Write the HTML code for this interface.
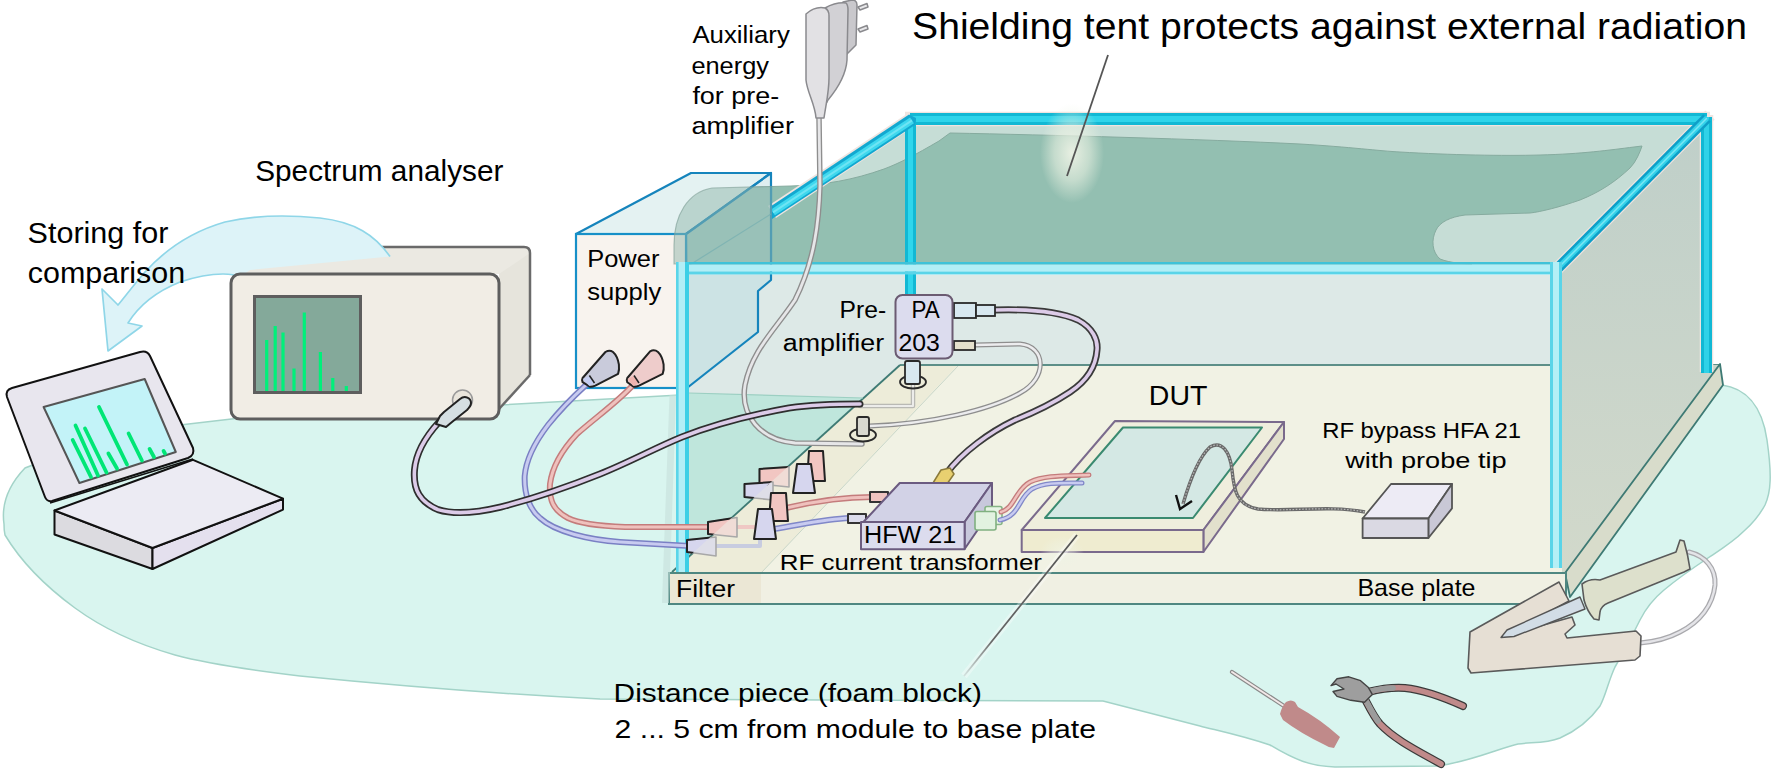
<!DOCTYPE html>
<html><head><meta charset="utf-8">
<style>
html,body{margin:0;padding:0;background:#fff;width:1772px;height:771px;overflow:hidden}
svg{display:block}
text{font-family:"Liberation Sans",sans-serif;fill:#000}
</style></head><body>
<svg width="1772" height="771" viewBox="0 0 1772 771">
<defs>
<linearGradient id="rface" x1="0" y1="0" x2="0" y2="1"><stop offset="0" stop-color="#bfcfc9"/><stop offset="1" stop-color="#d2d9cb"/></linearGradient>
<linearGradient id="psr" x1="0" y1="0" x2="1" y2="1"><stop offset="0" stop-color="#c8e0e2"/><stop offset="1" stop-color="#b8d8dc"/></linearGradient>
<radialGradient id="glow" cx="0.5" cy="0.5" r="0.5"><stop offset="0" stop-color="#f4f6ea" stop-opacity="0.95"/><stop offset="0.6" stop-color="#eef3e6" stop-opacity="0.6"/><stop offset="1" stop-color="#eef3e6" stop-opacity="0"/></radialGradient>
</defs>
<!--FLOOR-->
<path d="M4,524 C2,510 4,490 25,468 L120,432 L240,418 L500,405 L671,395.5 L700,394 L1000,394 L1722,385 C1745,388 1762,405 1767,440 C1772,475 1771,492 1765,505 C1758,518 1752,524 1744,531 C1733,542 1720,550 1708,558 C1690,570 1676,580 1664,590 C1652,600 1645,610 1640,620 C1630,640 1622,655 1615,667 C1608,682 1606,695 1600,706 C1590,720 1578,730 1560,738 C1545,744 1530,742 1518,744 C1500,748 1470,762 1437,766 L1335,767 C1310,766 1295,760 1270,745 C1240,735 1215,730 1200,726 L1103,701 L600,699 C500,694 400,686 300,676 C250,670 205,663 175,655 C140,645 105,630 75,608 C45,586 20,560 5,535 C4,531 4,527 4,524 Z" fill="#d9f5ef" stroke="#a3d3c8" stroke-width="1.5"/>
<!--TENT-->
<g id="tent">
<polygon points="680,270 910,120 1706,120 1556,270" fill="#c6ddd6"/>
<path id="blob" d="M674,262 L674,245 C674,215 688,192 712,188 L791,186 C825,185 853,180 884,169 C900,163 915,155 939,141 L950,133 C1050,135 1200,139 1300,144 C1350,147 1380,151 1400,152 C1450,155 1504,156 1540,155 C1582,154 1610,150 1634,147 L1642,146 C1640,152 1636,162 1630,168 C1615,182 1600,192 1580,200 C1560,207 1540,212 1530,213 L1465,215 C1450,217 1440,222 1436,230 C1431,240 1432,252 1440,259 C1450,263 1465,264 1472,264 L1472,264 L674,264 Z" fill="#93bfb1" stroke="#86ab9f" stroke-width="1"/>
<!-- inside front area -->
<rect x="689" y="275" width="862" height="92" fill="#dde9e7"/>
<polygon points="689,275 900,275 900,365 863,398 689,393" fill="#dde9e7"/>
<polygon points="689,393 863,398 672,572 689,572" fill="#bfe6dc"/>
<!-- base plate top -->
<polygon points="900,365 1720,365 1565,573 672,573" fill="#f1f2e4"/>
<polygon points="900,365 958,365 761,573 672,573" fill="#edecd9"/>
<line x1="900" y1="365" x2="1720" y2="365" stroke="#5d8f88" stroke-width="1.8"/>
<line x1="900" y1="365" x2="672" y2="572" stroke="#3e7a74" stroke-width="1.8"/>
<line x1="958" y1="366" x2="761" y2="573" stroke="#c8d6c8" stroke-width="1"/>
<line x1="689" y1="393" x2="863" y2="398" stroke="#9ccfc2" stroke-width="1.2"/>
<polygon points="1556,270 1706,120 1706,365 1720,365 1565,573 1562,573 1562,270" fill="url(#rface)"/>
<!-- base plate right strip -->
<polygon points="1720,364 1723,385 1570,597 1565,573" fill="#d8dccb" stroke="#3e7a74" stroke-width="1.8" stroke-linejoin="round"/>
<!-- base plate front -->
<rect x="669" y="573" width="897" height="31" fill="#f0f0e3" stroke="#4f8781" stroke-width="2"/>
<rect x="670" y="574" width="91" height="29" fill="#ebe7d5"/>
<!-- cyan frame -->
<g stroke-linecap="butt">
<line x1="905" y1="119" x2="1710" y2="119" stroke="#efe4e0" stroke-width="14.5"/>
<line x1="1706.5" y1="115" x2="1706.5" y2="372" stroke="#efe4e0" stroke-width="13.5"/>
<line x1="1710" y1="115" x2="1553" y2="273" stroke="#efe4e0" stroke-width="13"/>
<line x1="772" y1="212" x2="913" y2="118.5" stroke="#efe4e0" stroke-width="14.5"/>
<line x1="910" y1="119" x2="1707" y2="119" stroke="#12b8d4" stroke-width="12"/>
<line x1="910" y1="119" x2="1707" y2="119" stroke="#2fd4ea" stroke-width="6"/>
<line x1="910.5" y1="119" x2="910.5" y2="296" stroke="#12b8d4" stroke-width="11"/>
<line x1="910.5" y1="119" x2="910.5" y2="296" stroke="#2fd6ec" stroke-width="5"/>
<line x1="1706.5" y1="117" x2="1706.5" y2="373" stroke="#12b8d4" stroke-width="11"/>
<line x1="1706.5" y1="117" x2="1706.5" y2="373" stroke="#30d2e8" stroke-width="5"/>
<polygon points="772,205.5 909,114.5 916,118 915,125 772,219" fill="#12a8d0"/>
<line x1="773" y1="212.3" x2="912" y2="120.3" stroke="#3fd8ee" stroke-width="7"/>
<line x1="773" y1="212.3" x2="912" y2="120.3" stroke="#6fe4f4" stroke-width="2"/>
<line x1="1707" y1="118" x2="1556" y2="270" stroke="#0e9fc8" stroke-width="10.5"/>
<line x1="1707" y1="118" x2="1556" y2="270" stroke="#34d2ea" stroke-width="5.5"/>
<line x1="1707" y1="118" x2="1556" y2="270" stroke="#78e6f4" stroke-width="1.6"/>
</g>
</g>

<!--ANALYZER-->
<g id="analyzer">
<path d="M232,274 L252,247 L524,247 Q530,247 530,253 L530,375 L499,409 L499,274 Z" fill="#ebe9e2"/>
<path d="M300,247 L524,247 Q530,247 530,253" fill="none" stroke="#6a6a6a" stroke-width="2.5"/>
<path d="M499,274 L530,253 L530,375 L499,409 Z" fill="#e6e4dc"/>
<line x1="530" y1="253" x2="530" y2="375" stroke="#6a6a6a" stroke-width="2.5"/>
<line x1="530" y1="375" x2="499" y2="409" stroke="#6a6a6a" stroke-width="2.5"/>
</g>
<!--ARROW-->
<path d="M390,256.5 C375,235 355,222 320,218 C290,215 255,215 225,222 C190,232 165,250 145,272 C132,287 124,298 118,305 L102,289 L108,351 L142,326 L128,323 C138,307 155,292 180,282 C195,277 210,274 223,274 C230,274 236,275 240,277 L250,270 Z" fill="#ddf3f8"/>
<path d="M390,256.5 C375,235 355,222 320,218 C290,215 255,215 225,222 C190,232 165,250 145,272 C132,287 124,298 118,305 L102,289 L108,351 L142,326 L128,323 C138,307 155,292 180,282 C195,277 210,274 223,274 C230,274 236,275 240,277" fill="none" stroke="#8fd6e8" stroke-width="1.7" stroke-linejoin="round"/>
<g id="analyzer2">
<rect x="231" y="274" width="268" height="145" rx="9" fill="#f1ede5" stroke="#5e5e5e" stroke-width="3"/>
<rect x="254.5" y="296.5" width="106" height="96" fill="#84a99a" stroke="#5e5e5e" stroke-width="3"/>
<g stroke="#00f07a" stroke-width="3.2">
<line x1="266.7" y1="340" x2="266.7" y2="391"/>
<line x1="275.2" y1="326" x2="275.2" y2="391"/>
<line x1="283" y1="332.5" x2="283" y2="391"/>
<line x1="294" y1="368.5" x2="294" y2="391"/>
<line x1="304.3" y1="312.5" x2="304.3" y2="391"/>
<line x1="320.4" y1="352" x2="320.4" y2="391"/>
<line x1="332.8" y1="378" x2="332.8" y2="391"/>
<line x1="346.3" y1="386" x2="346.3" y2="391"/>
</g>
<circle cx="462.5" cy="400" r="10" fill="#e9e5dc" stroke="#9a9a9a" stroke-width="1.5"/>
</g>
<!--LAPTOP-->
<g id="laptop" stroke="#111" stroke-width="2" stroke-linejoin="round">
<polygon points="54.5,510.5 152.5,548 152.5,569 54.5,534.5" fill="#dcdbe0"/>
<polygon points="152.5,548 283,498.7 283,509.6 152.5,569" fill="#e4e0ee"/>
<polygon points="54.5,510.5 193,459.8 283,498.7 152.5,548" fill="#ecebf3"/>
<path d="M12,388 L140,352 Q147,350 150,356 L193,448 Q195,455 188,458 L52,501 Q47,502 45,497 L7,397 Q5,390 12,388 Z" fill="#e8e6ee"/>
<polygon points="43.6,407 144.7,379 175.8,452 79.4,483" fill="#c3f3f8" stroke="#555" stroke-width="2"/>
<line x1="50" y1="503" x2="193" y2="459" stroke="#111" stroke-width="1.5"/>
</g>
<g stroke="#00e676" stroke-width="3.8" stroke-linecap="round">
<line x1="72.7" y1="440" x2="91" y2="477"/>
<line x1="75.5" y1="425.5" x2="98" y2="475.5"/>
<line x1="85" y1="428.5" x2="106.5" y2="472.5"/>
<line x1="108.4" y1="453.5" x2="117" y2="468.5"/>
<line x1="99" y1="407" x2="127" y2="464.5"/>
<line x1="128.6" y1="433.5" x2="141.9" y2="460.5"/>
<line x1="149.6" y1="449" x2="154" y2="457"/>
<line x1="163.6" y1="451" x2="165" y2="453.5"/>
</g>
<!--POWER SUPPLY-->
<g id="psu">
<polygon points="576,234 691,173 771,173 686,234" fill="#e4f2f2" stroke="#1584bc" stroke-width="2.2" stroke-linejoin="round"/>
<polygon points="686,234 771,173 771,280 758,291 758,332 687,388" fill="#b8dcdf" fill-opacity="0.45" stroke="#1584bc" stroke-width="2.2" stroke-linejoin="round"/>
<rect x="576" y="234" width="110" height="154" fill="#f8f3ee" stroke="#1790c8" stroke-width="2.2"/>
<line x1="771" y1="214" x2="688" y2="266" stroke="#5aa8b8" stroke-width="1.2" opacity="0.7"/>
<clipPath id="psclip"><polygon points="575,233 691,172 772,172 772,280 758,291 758,332 687,389 575,389"/></clipPath>
<g clip-path="url(#psclip)"><path d="M674,262 L674,245 C674,215 688,192 712,188 L791,186 C825,185 853,180 884,169 C900,163 915,155 939,141 L950,133 C1050,135 1200,139 1300,144 C1350,147 1380,151 1400,152 C1450,155 1504,156 1540,155 C1582,154 1610,150 1634,147 L1642,146 C1640,152 1636,162 1630,168 C1615,182 1600,192 1580,200 C1560,207 1540,212 1530,213 L1465,215 C1450,217 1440,222 1436,230 C1431,240 1432,252 1440,259 C1450,263 1465,264 1472,264 L1472,264 L674,264 Z" fill="#8fb5aa" fill-opacity="0.5" stroke="#7f9f96" stroke-width="1.2" stroke-opacity="0.6"/></g>
</g>

<g id="frontframe">
<polygon points="669.5,395 676,395 669,603 662,603" fill="#c6e0da" opacity="0.6"/>
<rect x="676" y="262" width="886" height="2.6" fill="#3fc2d8"/>
<rect x="676" y="264.6" width="886" height="7" fill="#b2eef6"/>
<rect x="676" y="271.5" width="886" height="3" fill="#5ad4e8"/>
<rect x="676" y="262" width="13" height="310" fill="#b2eef6"/>
<rect x="676" y="262" width="2.6" height="310" fill="#5ad5e9"/>
<rect x="685" y="262" width="4" height="310" fill="#3ccfe6"/>
<rect x="1550" y="262" width="12" height="306" rx="2" fill="#b4eff6"/>
<rect x="1550" y="262" width="3" height="306" fill="#5ad4e8"/>
<rect x="1559" y="262" width="3" height="306" fill="#5ad4e8"/>
</g>
<!--CABLES-->
<g id="cables" fill="none" stroke-linecap="round" stroke-linejoin="round">
<!-- aux cable -->
<path d="M819,118 L820,186 C819,220 815,260 795,300 C775,330 752,350 745,385 C740,415 760,440 795,443 L862,444" stroke="#8e8e8e" stroke-width="5.5"/>
<path d="M819,118 L820,186 C819,220 815,260 795,300 C775,330 752,350 745,385 C740,415 760,440 795,443 L862,444" stroke="#e6e6e8" stroke-width="2.8"/>
<!-- gray trace to PA post -->
<path d="M860,406 L913,406 L913,384" stroke="#b9b9b4" stroke-width="4.5"/>
<path d="M860,406 L913,406 L913,384" stroke="#ececea" stroke-width="2"/>
<!-- PA bottom -> post cable -->
<path d="M975,345 L1020,344 C1046,346 1048,378 1020,393 C990,410 930,424 870,426" stroke="#8e8e8e" stroke-width="5"/>
<path d="M975,345 L1020,344 C1046,346 1048,378 1020,393 C990,410 930,424 870,426" stroke="#ececee" stroke-width="2.5"/>
<!-- PA to HFW cable -->
<path d="M995,310 C1030,309 1060,312 1078,320 C1093,328 1098,340 1097,350 C1096,365 1088,380 1070,392 C1055,402 1035,412 1015,420 C990,432 962,452 946,474" stroke="#3a3a3a" stroke-width="7"/>
<path d="M995,310 C1030,309 1060,312 1078,320 C1093,328 1098,340 1097,350 C1096,365 1088,380 1070,392 C1055,402 1035,412 1015,420 C990,432 962,452 946,474" stroke="#dccbe8" stroke-width="3.6"/>
<!-- blue cable -->
<path d="M586,385 C575,395 560,410 548,425 C535,442 526,460 524.7,476 C524,495 530,510 540,518 C555,532 590,540 620,542 L690,546" stroke="#7a80c4" stroke-width="6"/>
<path d="M586,385 C575,395 560,410 548,425 C535,442 526,460 524.7,476 C524,495 530,510 540,518 C555,532 590,540 620,542 L690,546" stroke="#c8cbf0" stroke-width="3"/>
<!-- pink cable -->
<path d="M633,385 C620,400 595,418 577,434 C562,450 552,468 550,484 C549,500 553,510 568,518 C580,524 600,526 625,527 L712,527" stroke="#c47c7c" stroke-width="6"/>
<path d="M633,385 C620,400 595,418 577,434 C562,450 552,468 550,484 C549,500 553,510 568,518 C580,524 600,526 625,527 L712,527" stroke="#efc1bd" stroke-width="3"/>
<!-- analyzer cable -->
<path d="M439,422 C428,434 416,452 414.5,470 C413,490 420,502 438,509.6 C455,515 480,512 501,507 C540,497 570,486 600,474 C630,462 655,448 682,437 C710,426 750,415 789,408 C810,405 830,404 860,404" stroke="#2e2e2e" stroke-width="7"/>
<path d="M439,422 C428,434 416,452 414.5,470 C413,490 420,502 438,509.6 C455,515 480,512 501,507 C540,497 570,486 600,474 C630,462 655,448 682,437 C710,426 750,415 789,408 C810,405 830,404 860,404" stroke="#dccbe8" stroke-width="3.6"/>
<!-- faint through lines in filter -->
<path d="M716,546 L760,546 L760,540" stroke="#c8cce0" stroke-width="4"/>
<path d="M737,527 L770,527" stroke="#efc8c4" stroke-width="4"/>
<!-- filter to HFW -->
<path d="M786,508 C820,500 845,497 872,497" stroke="#c47c7c" stroke-width="6"/>
<path d="M786,508 C820,500 845,497 872,497" stroke="#efc1bd" stroke-width="3"/>
<path d="M774,529 C805,524 825,519 850,518" stroke="#8088c8" stroke-width="6"/>
<path d="M774,529 C805,524 825,519 850,518" stroke="#c8cbf0" stroke-width="3"/>
</g>
<!--PSU connectors-->
<g stroke="#222" stroke-width="2" stroke-linejoin="round">
<path d="M582.6,378 L605.4,352 Q609.6,349.5 613,352 Q617.5,356 618.9,364.5 Q619.5,370 618.1,373.8 L595.3,385.6 Q591,387.5 589.4,386.4 L582.6,382.2 Q581.5,380 582.6,378 Z" fill="#c9cbdb"/><path d="M582.8,379 L589.5,376 L594.5,383 L589.4,386 Z" fill="#c4cdf0" stroke="none"/><line x1="589.4" y1="375.5" x2="594.5" y2="383" stroke-width="1.5"/>
<path d="M627.3,378 L650.1,351.4 Q654.3,349 658,352 Q662.2,356 663.6,364.5 Q664.2,370 662.7,373.8 L639.1,385.6 Q635,387.5 633.2,386.4 L627.3,382.2 Q626.2,380 627.3,378 Z" fill="#eecccb"/><path d="M627.5,379 L634,376 L639,383 L633.2,386 Z" fill="#f0b4b0" stroke="none"/><line x1="634" y1="375.5" x2="639" y2="383" stroke-width="1.5"/>
<path d="M436,424 L440,416 L444,412 L460,399 C465,395 471,398 471,403 C471,406 469,408 467,410 L452,422 L446,427 Z" fill="#d5dfe2"/>
</g>
<!--PA posts and connectors-->
<g stroke="#2a2a2a" stroke-width="1.8">
<ellipse cx="913" cy="382" rx="13" ry="6.5" fill="none"/>
<rect x="905" y="361" width="15" height="23" rx="2" fill="#d8e8f0"/>
<ellipse cx="863" cy="435" rx="13" ry="6.5" fill="none"/>
<rect x="857" y="417" width="12" height="19" rx="2" fill="#d8d8d0"/>
<rect x="954" y="303" width="22" height="15" fill="#d8e8f0"/>
<rect x="976" y="305" width="19" height="11" fill="#d8e8f0"/>
<rect x="954" y="341" width="21" height="9" fill="#e4e0cc"/>
</g>
<!--PA box-->
<rect x="895.5" y="295" width="57" height="63.5" rx="7" fill="#dcdcee" stroke="#6b5b72" stroke-width="2"/>
<!--filter cones-->
<defs><clipPath id="leftdiag"><polygon points="600,300 971.6,300 641,600 600,600"/></clipPath></defs>
<polygon points="708,522 737,517.5 737,537 708,534" fill="#f0dcd6" stroke="#a8a8a8" stroke-width="1.6" stroke-linejoin="round"/>
<polygon points="687,540 716,537 716,556 687,552" fill="#dedee8" stroke="#a8a8a8" stroke-width="1.6" stroke-linejoin="round"/>
<polygon points="759.5,469 789,467 789,487 759.5,484" fill="#f0dcd6" stroke="#a8a8a8" stroke-width="1.6" stroke-linejoin="round"/>
<polygon points="744.5,484 773,482 773,500 744.5,497" fill="#dedee8" stroke="#a8a8a8" stroke-width="1.6" stroke-linejoin="round"/>
<g clip-path="url(#leftdiag)">
<polygon points="708,522 737,517.5 737,537 708,534" fill="#f2c6c2" stroke="#222" stroke-width="2" stroke-linejoin="round"/>
<polygon points="687,540 716,537 716,556 687,552" fill="#d6d6ee" stroke="#222" stroke-width="2" stroke-linejoin="round"/>
<polygon points="759.5,469 789,467 789,487 759.5,484" fill="#f2c6c2" stroke="#222" stroke-width="2" stroke-linejoin="round"/>
<polygon points="744.5,484 773,482 773,500 744.5,497" fill="#d6d6ee" stroke="#222" stroke-width="2" stroke-linejoin="round"/>
</g>
<g stroke="#222" stroke-width="2" stroke-linejoin="round">
<polygon points="771,493 786,493 788,521 769,521" fill="#f2c6c2"/>
<polygon points="758,509 772,509 776,539 754,539" fill="#d6d6ee"/>
<polygon points="809,451 823,451 825,481 807,481" fill="#f2c6c2"/>
<polygon points="797,464 811,464 815,493 793,493" fill="#d6d6ee"/>
</g>
<!--HFW 21-->
<g stroke="#6b5b80" stroke-width="2" stroke-linejoin="round">
<rect x="870" y="492" width="18" height="10" fill="#f0c4c0" stroke="#333"/>
<rect x="848" y="514" width="18" height="9" fill="#dcdcec" stroke="#333"/>
<polygon points="933,483 941,470 950,468 954,474 947,484" fill="#e8d070" stroke="#8a7a3a" stroke-width="1.5"/>
<polygon points="899.7,483 992,483 964.6,522 863.4,522" fill="#d2d2e6"/>
<polygon points="964.6,522 992,483 992,509 964.6,549" fill="#c8c8dc"/>
<rect x="861" y="522" width="103.6" height="27.3" fill="#dcdcee"/>
<rect x="985" y="506.5" width="17" height="18" rx="2" fill="#e6f4e4" stroke="#86b486" stroke-width="1.6"/>
<rect x="975" y="511.5" width="21" height="18.5" rx="2" fill="#e2f2e0" stroke="#80b080" stroke-width="1.6"/>
</g>
<!--DUT foam block-->
<g stroke="#7a6a8c" stroke-width="2" stroke-linejoin="round">
<polygon points="1115,421 1284,422 1203.4,530 1021.7,530" fill="#efeedd"/>
<polygon points="1203.4,530 1284,422 1284,439 1203.4,552" fill="#e2e0cc"/>
<rect x="1021.7" y="530" width="181.7" height="22" fill="#efecd0"/>
<polygon points="1123,427.5 1262,427.5 1193,518 1045,518" fill="#d4e8e4" stroke="#3a8a70" stroke-width="2"/>
</g>
<g fill="none" stroke-linecap="round"><!-- HFW to DUT (over foam) -->
<path d="M1001,512 C1015,508 1015,490 1030,482 C1045,475 1065,476 1089,475" stroke="#c47c7c" stroke-width="5"/>
<path d="M1001,512 C1015,508 1015,490 1030,482 C1045,475 1065,476 1089,475" stroke="#efc1bd" stroke-width="2.4"/>
<path d="M1000,520 C1020,516 1018,498 1032,489 C1045,482 1060,483 1082,483" stroke="#8088c8" stroke-width="5"/>
<path d="M1000,520 C1020,516 1018,498 1032,489 C1045,482 1060,483 1082,483" stroke="#c8cbf0" stroke-width="2.4"/>
</g>
<!-- probe cable -->
<path d="M1183,504 C1190,480 1198,458 1210,447 C1222,440 1230,452 1232,470 C1234,490 1236,505 1258,509 C1290,512 1330,505 1365,512" fill="none" stroke="#6a6a6a" stroke-width="3.4"/>
<path d="M1183,504 C1190,480 1198,458 1210,447 C1222,440 1230,452 1232,470 C1234,490 1236,505 1258,509 C1290,512 1330,505 1365,512" fill="none" stroke="#b8b8b8" stroke-width="1.2" stroke-dasharray="1.6 1.6"/>
<path d="M1176,495 L1180,509 L1192,501" stroke="#111" stroke-width="2.4" fill="none" stroke-linejoin="miter"/>
<!--RF bypass box-->
<g stroke="#555" stroke-width="1.8" stroke-linejoin="round">
<polygon points="1391,484 1452,484 1428.4,518.5 1362.6,518.5" fill="#edebf5"/>
<polygon points="1428.4,518.5 1452,484 1452,508.4 1428.4,538" fill="#c9c8d6"/>
<rect x="1362.6" y="518.5" width="65.8" height="19.5" fill="#dad9e3"/>
</g>


<!--PLUG-->
<g stroke="#8a8a8e" stroke-width="1.5" stroke-linejoin="round">
<path d="M858,7 L867,3.5 L868,7 L860,10 Z M858,29 L867,25.5 L868,29 L860,32 Z" fill="#e8e8ea"/>
<path d="M843,2 L852,0 Q857,0 857,5 L856,45 L846,55 Z" fill="#c9c8cc"/>
<path d="M825,8 Q836,2 846,3 Q848,5 848,10 L847,60 C846,75 838,88 828,100 L822,112 Z" fill="#d2d1d5"/>
<path d="M806,14 Q815,6 825,8 Q829,10 829,16 L829,78 C829,92 826,104 824,118 L816,118 C815,104 807,92 806,80 Z" fill="#e2e1e4"/>
</g>
<!--SOLDERING STATION-->

<path d="M1689,552 C1705,556 1716,568 1715,585 C1713,605 1700,622 1680,632 C1665,640 1652,642 1640,643" fill="none" stroke="#a9a9ad" stroke-width="5" stroke-linecap="round"/>
<path d="M1689,552 C1705,556 1716,568 1715,585 C1713,605 1700,622 1680,632 C1665,640 1652,642 1640,643" fill="none" stroke="#e4e4e8" stroke-width="2.5" stroke-linecap="round"/>
<path d="M1470,632 L1559,582 L1569,601 L1504,636 L1572,617 L1575,625 L1565,634 L1567,638 L1636,631 L1641,636 L1640,656 L1635,660 L1471,673 L1468,668 Z" fill="#e6dfd4" stroke="#5a5a5a" stroke-width="1.6" stroke-linejoin="round"/>
<path d="M1580,597 L1585,609 L1514,636.5 L1501,637.5 L1507,630 Z" fill="#d2dde6" stroke="#555" stroke-width="1.4" stroke-linejoin="round"/>
<path d="M1582,584 Q1590,578 1600,580 L1676,552 Q1678,546 1680,540 L1684,541 Q1688,555 1690,569 L1684,572 L1608,603 Q1601,606 1600,612 L1599,620 L1594,619 Q1587,611 1584,600 Z" fill="#dde0cc" stroke="#5a5a5a" stroke-width="1.6" stroke-linejoin="round"/>
<!--SCREWDRIVER-->
<line x1="1232" y1="672" x2="1284" y2="706" stroke="#8a8a8a" stroke-width="4.2" stroke-linecap="round"/>
<line x1="1232" y1="672" x2="1284" y2="706" stroke="#f2e8e8" stroke-width="2" stroke-linecap="round"/>
<path d="M1280,714 Q1282,706 1286,702 Q1291,699 1295,702 L1298,707 Q1320,719 1340,737 L1334,748 Q1329,748 1325,745 Q1300,733 1283,720 Z" fill="#c08a8a"/>
<!--PLIERS-->
<path d="M1368,692 C1380,689 1393,687 1405,688 C1425,690 1445,698 1463,706" fill="none" stroke="#3a3a3a" stroke-width="8" stroke-linecap="round"/>
<path d="M1368,692 C1380,689 1393,687 1405,688 C1425,690 1445,698 1463,706" fill="none" stroke="#c08a8a" stroke-width="5.6" stroke-linecap="round"/>
<path d="M1368,692 C1378,689 1386,688 1393,688" fill="none" stroke="#9c9c9c" stroke-width="5.6" stroke-linecap="round"/>
<path d="M1360,690 C1366,700 1372,715 1380,724 C1395,740 1420,752 1441,764" fill="none" stroke="#3a3a3a" stroke-width="8" stroke-linecap="round"/>
<path d="M1360,690 C1366,700 1372,715 1380,724 C1395,740 1420,752 1441,764" fill="none" stroke="#c08a8a" stroke-width="5.6" stroke-linecap="round"/>
<path d="M1360,690 C1366,700 1372,713 1378,721" fill="none" stroke="#9c9c9c" stroke-width="5.6" stroke-linecap="round"/>
<path d="M1331,685.6 L1337,678.7 L1348.8,676.8 L1360.6,680.7 L1368.4,687.6 L1372.3,694.4 L1364.5,702.2 L1350.8,700.3 L1337,696.4 L1333,691.5 L1344,689 L1336,684 Z" fill="#9e9e9e" stroke="#444" stroke-width="1.4" stroke-linejoin="round"/>
<!--POINTERS-->
<defs>
<radialGradient id="glow2" cx="0.5" cy="0.5" r="0.5"><stop offset="0" stop-color="#f2f5e8" stop-opacity="0.9"/><stop offset="0.55" stop-color="#eef3e4" stop-opacity="0.55"/><stop offset="1" stop-color="#eef3e4" stop-opacity="0"/></radialGradient>
<linearGradient id="fadeL" gradientUnits="userSpaceOnUse" x1="1077" y1="535" x2="964" y2="676"><stop offset="0" stop-color="#555"/><stop offset="0.75" stop-color="#666"/><stop offset="1" stop-color="#888" stop-opacity="0.2"/></linearGradient>
</defs>
<ellipse cx="1072" cy="153" rx="32" ry="50" fill="url(#glow2)"/>
<line x1="1108" y1="55" x2="1067" y2="176" stroke="#555" stroke-width="1.8"/>
<ellipse cx="1062" cy="552" rx="22" ry="16" fill="url(#glow2)" opacity="0.7"/>
<line x1="1077" y1="535" x2="964" y2="676" stroke="#ffffff" stroke-width="7" stroke-opacity="0.35"/>
<line x1="1077" y1="535" x2="964" y2="676" stroke="url(#fadeL)" stroke-width="1.8"/>
<!--TEXT-->
<g id="texts">
<text x="912.1" y="38.8" font-size="37.3" textLength="834.9" lengthAdjust="spacingAndGlyphs">Shielding tent protects against external radiation</text>
<text x="255.2" y="181.1" font-size="29.5" textLength="248.2" lengthAdjust="spacingAndGlyphs">Spectrum analyser</text>
<text x="27.6" y="242.7" font-size="29" textLength="140.8" lengthAdjust="spacingAndGlyphs">Storing for</text>
<text x="27.8" y="282.8" font-size="29" textLength="157.4" lengthAdjust="spacingAndGlyphs">comparison</text>
<text x="692.4" y="42.7" font-size="24.2" textLength="97.4" lengthAdjust="spacingAndGlyphs">Auxiliary</text>
<text x="691.4" y="73.6" font-size="24.2" textLength="77.6" lengthAdjust="spacingAndGlyphs">energy</text>
<text x="692.4" y="103.5" font-size="24.2" textLength="86.8" lengthAdjust="spacingAndGlyphs">for pre-</text>
<text x="691.4" y="133.5" font-size="24.2" textLength="102.6" lengthAdjust="spacingAndGlyphs">amplifier</text>
<text x="587.2" y="266.6" font-size="23.7" textLength="72.2" lengthAdjust="spacingAndGlyphs">Power</text>
<text x="587.2" y="300.4" font-size="23.7" textLength="74.0" lengthAdjust="spacingAndGlyphs">supply</text>
<text x="839.6" y="317.7" font-size="23.3" textLength="46.6" lengthAdjust="spacingAndGlyphs">Pre-</text>
<text x="782.8" y="351.1" font-size="23.3" textLength="101.4" lengthAdjust="spacingAndGlyphs">amplifier</text>
<text x="911.6" y="317.7" font-size="23.3" textLength="28.2" lengthAdjust="spacingAndGlyphs">PA</text>
<text x="898.4" y="351.1" font-size="23.3" textLength="41.4" lengthAdjust="spacingAndGlyphs">203</text>
<text x="1148.8" y="405.4" font-size="27.4" textLength="58.6" lengthAdjust="spacingAndGlyphs">DUT</text>
<text x="1322.2" y="437.7" font-size="22.6" textLength="198.8" lengthAdjust="spacingAndGlyphs">RF bypass HFA 21</text>
<text x="1345.2" y="468.2" font-size="22.6" textLength="161.4" lengthAdjust="spacingAndGlyphs">with probe tip</text>
<text x="864.0" y="542.6" font-size="23.7" textLength="92.4" lengthAdjust="spacingAndGlyphs">HFW 21</text>
<text x="779.8" y="570.1" font-size="22.6" textLength="262.2" lengthAdjust="spacingAndGlyphs">RF current transformer</text>
<text x="676.0" y="596.7" font-size="23.5" textLength="59.0" lengthAdjust="spacingAndGlyphs">Filter</text>
<text x="1357.4" y="595.7" font-size="24" textLength="118.1" lengthAdjust="spacingAndGlyphs">Base plate</text>
<text x="613.6" y="702.4" font-size="26" textLength="368.4" lengthAdjust="spacingAndGlyphs">Distance piece (foam block)</text>
<text x="614.6" y="738.4" font-size="26" textLength="481.4" lengthAdjust="spacingAndGlyphs">2 ... 5 cm from module to base plate</text>
</g>
</svg>
</body></html>
